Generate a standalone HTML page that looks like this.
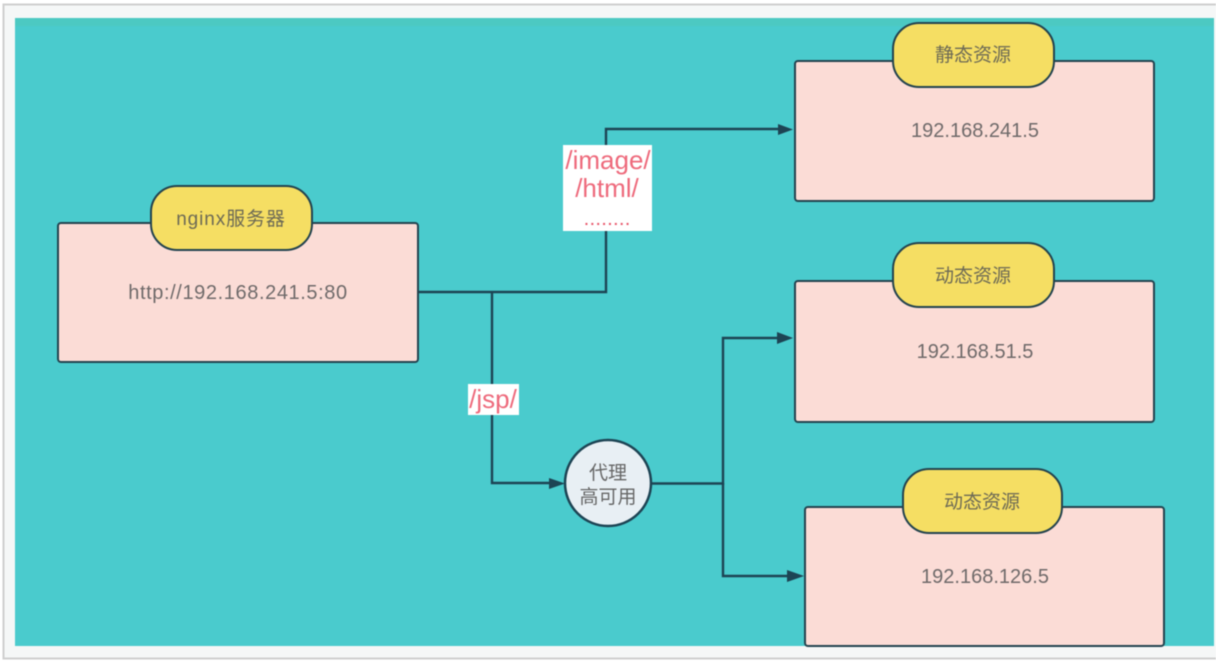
<!DOCTYPE html>
<html><head><meta charset="utf-8"><style>
html,body{margin:0;padding:0;background:#fff;overflow:hidden}
svg{display:block;filter:blur(.6px)}
text{font-family:"Liberation Sans","Noto Sans CJK SC",sans-serif;text-anchor:middle}
.b{fill:#fbdcd6;stroke:#23434f;stroke-width:2}
.p{fill:#f5de63;stroke:#23434f;stroke-width:2}
.l{fill:none;stroke:#1d4454;stroke-width:2.4}
.a{fill:#1d4454}
.t{font-size:20px;fill:#6f6a6a}
.z{font-size:19px;fill:#6d6a55}
.r{fill:#ee6a7c;font-size:26px}
</style></head><body>
<svg width="1216" height="662" viewBox="0 0 1216 662" xmlns="http://www.w3.org/2000/svg">
<rect width="1216" height="662" fill="#fff"/>
<rect x="3.5" y="4.500" width="1216" height="654" fill="#f5f7f7" stroke="#cfcfcf" stroke-width="2"/>
<rect x="15" y="18" width="1199" height="628" fill="#4acbcd"/>
<rect x="15" y="18" width="1199" height="8" fill="#4cc9c2"/>

<path class="l" d="M418 292H606V129H780"/>
<path class="a" d="M778 124L793 129.500L778 135Z"/>
<path class="l" d="M492 292V483H552"/>
<path class="a" d="M549 478L565 483.500L549 489Z"/>
<path class="l" d="M652 483.500H723V338H780"/>
<path class="a" d="M777 332L793 338L777 344Z"/>
<path class="l" d="M723 483V576H790"/>
<path class="a" d="M787 570L804 576L787 582Z"/>

<rect class="b" x="58" y="223" width="360" height="139" rx="3"/>
<rect class="p" x="151" y="186" width="161" height="64" rx="26"/>
<text class="z" x="231" y="225" style="letter-spacing:.9px">nginx服务器</text>
<text class="t" x="238" y="299" style="letter-spacing:.6px">http://192.168.241.5:80</text>

<rect class="b" x="795" y="61" width="359" height="140" rx="3"/>
<rect class="p" x="893" y="23" width="161" height="64" rx="26"/>
<text class="z" x="973" y="61">静态资源</text>
<text class="t" x="975" y="137">192.168.241.5</text>

<rect class="b" x="795" y="281" width="359" height="141" rx="3"/>
<rect class="p" x="893" y="243" width="161" height="64" rx="26"/>
<text class="z" x="973" y="282">动态资源</text>
<text class="t" x="975" y="358">192.168.51.5</text>

<rect class="b" x="805" y="507" width="359" height="139" rx="3"/>
<rect class="p" x="903" y="469" width="159" height="64" rx="26"/>
<text class="z" x="982" y="508">动态资源</text>
<text class="t" x="985" y="583">192.168.126.5</text>

<circle cx="608" cy="483" r="43" fill="#e8eff4" stroke="#1d4454" stroke-width="2.500"/>
<text class="z" x="608" y="479" style="fill:#666">代理</text>
<text class="z" x="608" y="503" style="fill:#666">高可用</text>

<rect x="563" y="145" width="89" height="86" fill="#fff"/>
<text class="r" x="608" y="169">/image/</text>
<text class="r" x="607" y="197">/html/</text>
<text x="608" y="225" style="font-size:14px;font-weight:bold;fill:#e8566a;letter-spacing:2px">........</text>

<rect x="468" y="384" width="51" height="31" fill="#fff"/>
<text class="r" x="493" y="408">/jsp/</text>
</svg>
</body></html>
